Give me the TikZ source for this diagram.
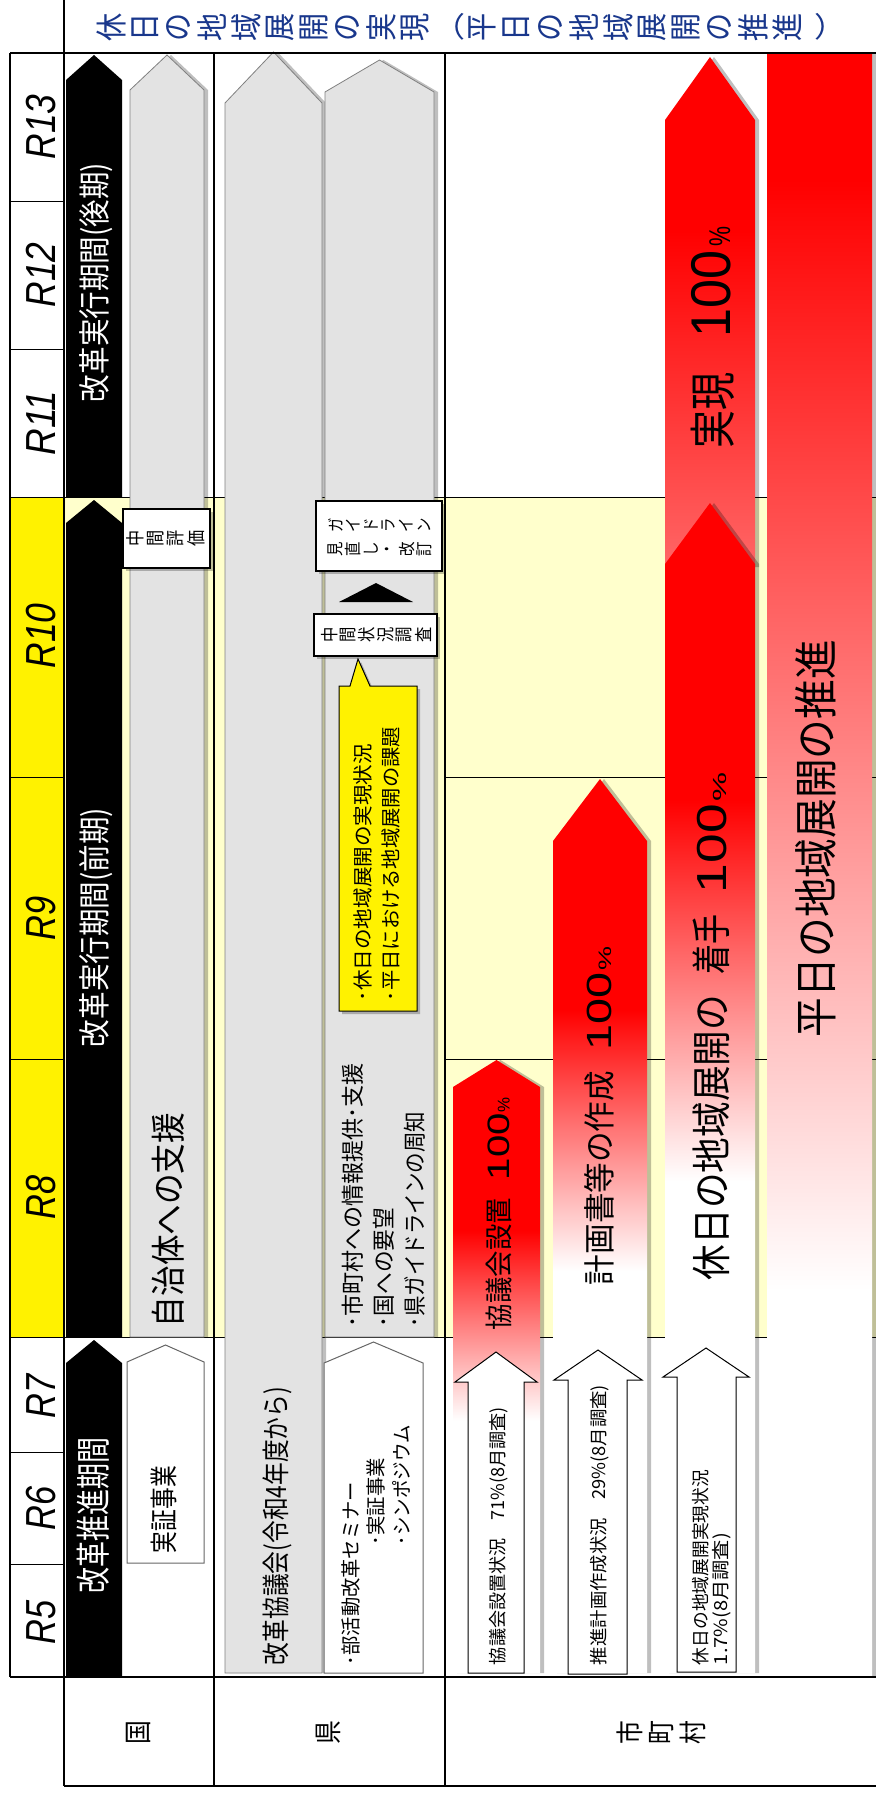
\documentclass[tikz,border=0pt]{standalone}
\usepackage{fontspec}
\usepackage{graphicx}
\setmainfont{Noto Sans CJK JP}
\newfontfamily\dig{Liberation Sans}
\usetikzlibrary{calc}
\definecolor{lgray}{RGB}{227,227,227}
\definecolor{lyel}{RGB}{255,255,204}
\definecolor{ttl}{RGB}{25,55,140}
\pgfdeclareverticalshading{redA}{100bp}{color(0bp)=(white); color(45.6bp)=(white); color(61.1bp)=(red); color(100bp)=(red)}
\pgfdeclareverticalshading{redB}{100bp}{color(0bp)=(white); color(47.5bp)=(white); color(62.1bp)=(red); color(100bp)=(red)}
\pgfdeclareverticalshading{redC}{100bp}{color(0bp)=(white); color(46bp)=(white); color(62.3bp)=(red); color(100bp)=(red)}
\pgfdeclareverticalshading{redD}{100bp}{color(0bp)=(red!60!white); color(25bp)=(red!60!white); color(58bp)=(red); color(100bp)=(red)}
\pgfdeclareverticalshading{redE}{100bp}{color(0bp)=(white); color(36.9bp)=(white); color(71.1bp)=(red); color(100bp)=(red)}
\newcommand\rb[3]{\resizebox{#1pt}{\height}{\fontsize{#2pt}{#2pt}\selectfont #3}}
\newcommand\uparr[5]{(#1,#5) -- (#1,#4) -- ({(#1+#2)/2},#3) -- (#2,#4) -- (#2,#5) -- cycle}
\newcommand\wingarr[7]{(#3,#7) -- (#3,#6) -- (#1,#6) -- ({(#1+#2)/2},#5) -- (#2,#6) -- (#4,#6) -- (#4,#7) -- cycle}
\begin{document}
\begin{tikzpicture}[x=0.5pt,y=-0.5pt,
  rot/.style={rotate=90,inner sep=0pt,outer sep=0pt,anchor=base west},
  chr/.style={rotate=90,inner sep=0pt},
  box/.style={draw=black,line width=0.7pt,fill=white,inner sep=0pt},
  sh/.style={fill=black,opacity=0.25},
  frame/.style={line width=0.9pt},
  gridl/.style={line width=0.5pt},
  grayarr/.style={fill=lgray,draw=gray,line width=0.4pt},
  whitearr/.style={fill=white,draw=gray!80!black,line width=0.5pt},
  cityarr/.style={fill=white,draw=black,line width=0.5pt},
  ttlf/.style={text=ttl,font=\fontsize{16pt}{16pt}\selectfont}]
\useasboundingbox (0,0) rectangle (876,1793);
\fill[white] (0,0) rectangle (876,1793);
% backgrounds
\fill[lyel] (64,497) rectangle (876,1337);
\fill[yellow] (10,497) rectangle (64,1337);
% body grid lines
\draw[gridl] (10,497) -- (876,497);
\draw[gridl] (10,1337) -- (876,1337);
\draw[gridl] (445,777) -- (876,777);
\draw[gridl] (445,1059) -- (876,1059);
\foreach \yy in {201,349,777,1059,1452,1564} \draw[gridl] (10,\yy) -- (64,\yy);
% title
\foreach \cc [count=\i from 0] in {休,日,の,地,域,展,開,の,実,現}
  \node[chr,ttlf] (ta\i) at ({111+33.8*\i},27) {\scalebox{0.88}[1]{\cc}};
\node[inner sep=0pt,ttlf] (tpo) at (449,27) {\scalebox{1}[0.88]{（}};
\foreach \cc [count=\i from 11] in {平,日,の,地,域,展,開,の,推,進}
  \node[chr,ttlf] (tb\i) at ({111+33.8*\i},27) {\scalebox{0.88}[1]{\cc}};
\node[inner sep=0pt,ttlf] (tpc) at (830,27) {\scalebox{1}[0.88]{）}};
% year labels
\foreach \lab/\yc/\len in {R13/127/32.5,R12/275/32.5,R11/423/32.5,R10/636/32.5,R9/918/22,R8/1197/22,R7/1396/22,R6/1508/22,R5/1622/22}
  \node[rotate=90,inner sep=0pt,anchor=base] (y\lab) at (55,\yc) {\resizebox{\len pt}{\height}{\dig\itshape\fontsize{21pt}{21pt}\selectfont \lab}};
% ---- 市町村 red arrows
\fill[sh,xshift=2pt] (767,53) rectangle (872,1677);
\shade[shading=redE] (767,53) rectangle (872,1677);
\fill[sh,xshift=2pt] \uparr{665}{755}{57}{120}{567};
\shade[shading=redD] \uparr{665}{755}{57}{120}{567};
\fill[sh,xshift=2pt] \uparr{665}{755}{503}{564}{1673};
\shade[shading=redC] \uparr{665}{755}{503}{564}{1673};
\fill[sh,xshift=2pt] \uparr{553}{647}{779}{841}{1673};
\shade[shading=redB] \uparr{553}{647}{779}{841}{1673};
\fill[sh,xshift=2pt] \uparr{453}{540}{1060}{1087}{1673};
\shade[shading=redA] \uparr{453}{540}{1060}{1087}{1673};
\filldraw[cityarr] \wingarr{455}{537}{468}{524}{1352}{1382}{1673};
\filldraw[cityarr] \wingarr{554}{642}{568}{627}{1350}{1380}{1674};
\filldraw[cityarr] \wingarr{663}{749}{677}{736}{1348}{1377}{1672};
% red labels
\node[rot] (l1) at (509.5,1330) {\rb{66}{14}{協議会設置}\hspace{9pt}\rb{33.5}{15.5}{\dig 100}\hspace{0.5pt}\rb{7.5}{8.5}{\dig\%}};
\node[rot] (l2) at (611,1285) {\rb{107}{16}{計画書等の作成}\hspace{10.5pt}\rb{39}{17.5}{\dig 100}\hspace{1pt}\rb{12}{9}{\dig\%}};
\node[rot] (l3) at (726,1280) {\rb{142.5}{20}{休日の地域展開の}\hspace{10.5pt}\rb{30}{20}{着手}\hspace{10.5pt}\rb{44.5}{21}{\dig 100}\hspace{1.5pt}\rb{14.5}{9.5}{\dig\%}};
\node[rot] (l4) at (730,448) {\rb{38}{23.5}{実現}\hspace{17.5pt}\rb{43.5}{28}{\dig 100}\hspace{2pt}\rb{10}{15}{\dig\%}};
\node[rot] (l5) at (832,1037) {\rb{198.5}{22}{平日の地域展開の推進}};
% white arrow labels
\node[rot] (w1) at (504,1665) {\rb{129}{9}{協議会設置状況　71\%(8月調査)}};
\node[rot] (w2) at (605,1665) {\rb{140}{9}{推進計画作成状況　29\%(8月調査)}};
\node[rot] (w3) at (707,1665) {\rb{97.5}{9}{休日の地域展開実現状況}};
\node[rot] (w4) at (727,1665) {\rb{66}{9}{1.7\%(8月調査)}};
% ---- 国
\fill[black] \uparr{66}{122}{55}{80}{497};
\fill[black] \uparr{66}{122}{500}{523}{1337};
\fill[black] \uparr{66}{122}{1340}{1363}{1677};
\fill[sh,xshift=2pt] \uparr{130}{204}{55}{90}{1337};
\filldraw[grayarr] \uparr{130}{204}{55}{90}{1337};
\filldraw[whitearr] \uparr{127}{204}{1345}{1362}{1563};
\node[rot,text=white] (k1) at (106,1593) {\rb{78}{17.5}{改革推進期間}};
\node[rot,text=white] (k2) at (106,1047) {\rb{119.5}{16}{改革実行期間(前期)}};
\node[rot,text=white] (k3) at (106,402) {\rb{119.5}{16}{改革実行期間(後期)}};
\node[rot] (k4) at (174,1553) {\rb{43.5}{14}{実証事業}};
\node[rot] (k5) at (181,1327) {\rb{107}{17.5}{自治体への支援}};
\fill[sh,xshift=1.5pt,yshift=-1.5pt] (123,509) rectangle (210,568);
\node[box,minimum width=43.5pt,minimum height=29.5pt] (hyoka) at (166.5,538.5) {};
\foreach \cc [count=\i from 0] in {中,間,評,価}
  \node[chr,font=\fontsize{9.5pt}{9.5pt}\selectfont] (hy\i) at ({135+20.3*\i},538.5) {\scalebox{0.85}[1]{\cc}};
% ---- 県
\fill[sh,xshift=2pt] \uparr{225}{322}{52}{103}{1673};
\filldraw[grayarr] \uparr{225}{322}{52}{103}{1673};
\filldraw[whitearr] \uparr{324}{423}{1342}{1363}{1673};
\fill[sh,xshift=2pt] \uparr{325}{434}{60}{92}{1337};
\filldraw[grayarr] \uparr{325}{434}{60}{92}{1337};
\node[rot] (p1) at (286,1665) {\rb{139}{14}{改革協議会(令和4年度から)}};
\node[rot] (p2) at (358,1665) {\rb{91.5}{10}{･部活動改革セミナー}};
\node[rot] (p3) at (383,1545) {\rb{43.5}{10}{･実証事業}};
\node[rot] (p4) at (409,1545) {\rb{60}{10}{･シンポジウム}};
\node[rot] (p5) at (361,1327) {\rb{132}{11.5}{･市町村への情報提供･支援}};
\node[rot] (p6) at (392,1327) {\rb{59.5}{11.5}{･国への要望}};
\node[rot] (p7) at (423,1327) {\rb{107.5}{11.5}{･県ガイドラインの周知}};
% callout
\fill[sh,xshift=1.5pt,yshift=-1.5pt] (339,686) -- (350,686) -- (358,659) -- (370,686) -- (417,686) -- (417,1011) -- (339,1011) -- cycle;
\filldraw[fill=yellow,draw=black,line width=0.5pt] (339,686) -- (350,686) -- (358,659) -- (370,686) -- (417,686) -- (417,1011) -- (339,1011) -- cycle;
\node[rot] (c1) at (370,1001) {\rb{128.5}{10}{･休日の地域展開の実現状況}};
\node[rot] (c2) at (398,1001) {\rb{137}{10}{･平日における地域展開の課題}};
% boxes
\fill[sh,xshift=1.5pt,yshift=-1.5pt] (314,614) rectangle (437,656);
\node[box,minimum width=61.5pt,minimum height=21pt] (chosa) at (375.5,635) {};
\foreach \cc [count=\i from 0] in {中,間,状,況,調,査}
  \node[chr,font=\fontsize{9pt}{9pt}\selectfont] (cs\i) at ({329.5+18.7*\i},635) {\scalebox{0.85}[1]{\cc}};
\fill[black] (339,602) -- (376,583) -- (413,602) -- cycle;
\fill[sh,xshift=1.5pt,yshift=-1.5pt] (316,501) rectangle (442,571);
\node[box,minimum width=63pt,minimum height=35pt] (guide) at (379,536) {};
\foreach \cc [count=\i from 0] in {ガ,イ,ド,ラ,イ,ン}
  \node[chr,font=\fontsize{8.5pt}{8.5pt}\selectfont] (ga\i) at ({335.8+17.7*\i},525) {\scalebox{0.85}[1]{\cc}};
\foreach \cc [count=\i from 0] in {見,直,し,・,改,訂}
  \node[chr,font=\fontsize{8.5pt}{8.5pt}\selectfont] (gb\i) at ({335.8+17.7*\i},549) {\scalebox{0.85}[1]{\cc}};
% ---- frame
\draw[frame] (10,53) -- (876,53);
\draw[frame] (10,53) -- (10,1677);
\draw[frame] (64,0) -- (64,1786);
\draw[frame] (214,53) -- (214,1786);
\draw[frame] (445,53) -- (445,1786);
\draw[frame] (10,1677) -- (876,1677);
\draw[frame] (64,1786) -- (876,1786);
% bottom labels
\node[chr,font=\fontsize{14pt}{14pt}\selectfont] (b1) at (138,1733) {\scalebox{0.85}[1]{国}};
\node[chr,font=\fontsize{14pt}{14pt}\selectfont] (b2) at (328,1733) {\scalebox{0.85}[1]{県}};
\foreach \cc/\xx [count=\i] in {市/630,町/662,村/693}
  \node[chr,font=\fontsize{14pt}{14pt}\selectfont] (bm\i) at (\xx,1733) {\scalebox{0.85}[1]{\cc}};
\end{tikzpicture}
\end{document}
